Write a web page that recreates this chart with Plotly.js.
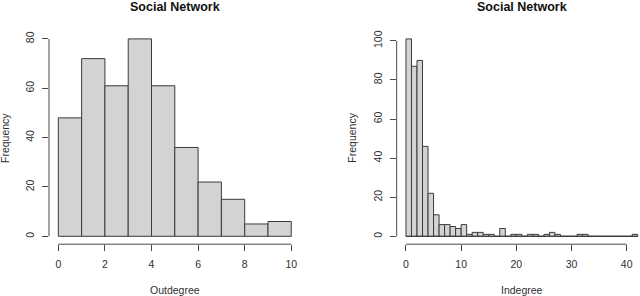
<!DOCTYPE html>
<html><head><meta charset="utf-8">
<script src="https://cdn.plot.ly/plotly-3.0.1.min.js"></script>
<style>html,body{margin:0;padding:0;background:#fff}#chart{width:640px;height:296px}</style>
</head><body><div id="chart"></div>
<script>
// Data
const chartTitle = "Social Network";
const outBinStarts = [0,1,2,3,4,5,6,7,8,9];
const outCounts = [48,72,61,80,61,36,22,15,5,6];
const outTicksX = [0,2,4,6,8,10];
const outTicksY = [0,20,40,60,80];
const inBinStarts = [];
for (let i = 0; i < 42; i++) inBinStarts.push(i);
const inCounts = [101,87,90,46,22,11,6,6,5,4,6,1,2,2,1,1,0,4,0,1,1,0,1,1,0,1,2,1,0,0,0,1,1,0,0,0,0,0,0,0,0,1];
const inTicksX = [0,10,20,30,40];
const inTicksY = [0,20,40,60,80,100];

const binW = 1;
const W = 640, H = 296;
const fillC = '#d3d3d3', edgeC = '#3a3a3a', axC = '#4a4a4a', txtC = '#303030';
const FONT = 'Liberation Sans, Arial, Helvetica, sans-serif';

function px2paperX(p){return p/W;}
function px2paperY(p){return 1-p/H;}

const yDom = [px2paperY(244.2), px2paperY(31)];
const xDom1 = [px2paperX(49.0), px2paperX(300.6)];
const xDom2 = [px2paperX(396.7), 1];

const outMax = Math.max(...outCounts), inMax = Math.max(...inCounts);
const outLo = outBinStarts[0], outHi = outBinStarts[outBinStarts.length-1]+binW;
const inLo = inBinStarts[0], inHi = inBinStarts[inBinStarts.length-1]+binW;
const pxWidth2 = (W*(1 - xDom2[0]));
const in_ext = (inHi-inLo)*0.04;
const in_r0 = inLo - in_ext;
const in_unitPx = 250.3/((inHi-inLo)+2*in_ext);
const in_r1 = in_r0 + pxWidth2/in_unitPx;

const traces = [
  {type:'bar', x: outBinStarts.map(s=>s+binW/2), y: outCounts, width: binW,
   marker:{color:fillC, line:{color:edgeC, width:1}}, xaxis:'x', yaxis:'y', hoverinfo:'skip'},
  {type:'scatter', mode:'lines', x:[inLo, inHi], y:[0,0], line:{color:edgeC,width:1},
   xaxis:'x2', yaxis:'y2', hoverinfo:'skip'},
  {type:'bar', x: inBinStarts.map(s=>s+binW/2), y: inCounts, width: binW,
   marker:{color:fillC, line:{color:edgeC, width:1}}, xaxis:'x2', yaxis:'y2', hoverinfo:'skip'}
];

function axBase(){
  return {showgrid:false, zeroline:false, showline:false, ticks:'outside', ticklen:6,
    tickcolor:axC, tickwidth:1, tickfont:{family:FONT,size:10.5,color:txtC}, fixedrange:true};
}
const ext = (a,b)=>[a-(b-a)*0.04, b+(b-a)*0.04];

function ann(text, xp, yp, size, color, angle){
  const a = {text:text, xref:'paper', yref:'paper', x:px2paperX(xp), y:px2paperY(yp),
    xanchor:'center', yanchor:'middle', showarrow:false, font:{family:FONT,size:size,color:color}};
  if (angle) a.textangle = angle;
  return a;
}

const layout = {
  width:W, height:H, margin:{l:0,r:0,t:0,b:0}, showlegend:false,
  paper_bgcolor:'#fff', plot_bgcolor:'#fff', bargap:0,
  xaxis: Object.assign(axBase(), {domain:xDom1, range:ext(outLo,outHi), tickvals:outTicksX, ticktext:outTicksX.map(String), anchor:'y', ticklabelstandoff:4}),
  yaxis: Object.assign(axBase(), {domain:yDom, range:ext(0,outMax), tickvals:outTicksY, ticktext:outTicksY.map(String), tickangle:-90, anchor:'x', ticklabelstandoff:4}),
  xaxis2: Object.assign(axBase(), {domain:xDom2, range:[in_r0,in_r1], tickvals:inTicksX, ticktext:inTicksX.map(String), anchor:'y2', ticklabelstandoff:4}),
  yaxis2: Object.assign(axBase(), {domain:yDom, range:ext(0,inMax), tickvals:inTicksY, ticktext:inTicksY.map(String), tickangle:-90, anchor:'x2', ticklabelstandoff:4}),
  shapes: [
    {type:'line', xref:'x', yref:'paper', x0:outTicksX[0], x1:outTicksX[outTicksX.length-1], y0:yDom[0], y1:yDom[0], line:{color:axC,width:1}},
    {type:'line', xref:'paper', yref:'y', x0:xDom1[0], x1:xDom1[0], y0:outTicksY[0], y1:outTicksY[outTicksY.length-1], line:{color:axC,width:1}},
    {type:'line', xref:'x2', yref:'paper', x0:inTicksX[0], x1:inTicksX[inTicksX.length-1], y0:yDom[0], y1:yDom[0], line:{color:axC,width:1}},
    {type:'line', xref:'paper', yref:'y2', x0:xDom2[0], x1:xDom2[0], y0:inTicksY[0], y1:inTicksY[inTicksY.length-1], line:{color:axC,width:1}}
  ],
  annotations: [
    ann('<b>'+chartTitle+'</b>', 174.8, 7, 12.5, '#111'),
    ann('<b>'+chartTitle+'</b>', 521.8, 7, 12.5, '#111'),
    ann('Outdegree', 174.8, 290, 10.5, txtC),
    ann('Indegree', 521.8, 290, 10.5, txtC),
    ann('Frequency', 5, 138, 10.5, txtC, -90),
    ann('Frequency', 351.7, 138, 10.5, txtC, -90)
  ]
};
Plotly.newPlot('chart', traces, layout, {staticPlot:true, displayModeBar:false});
</script></body></html>
